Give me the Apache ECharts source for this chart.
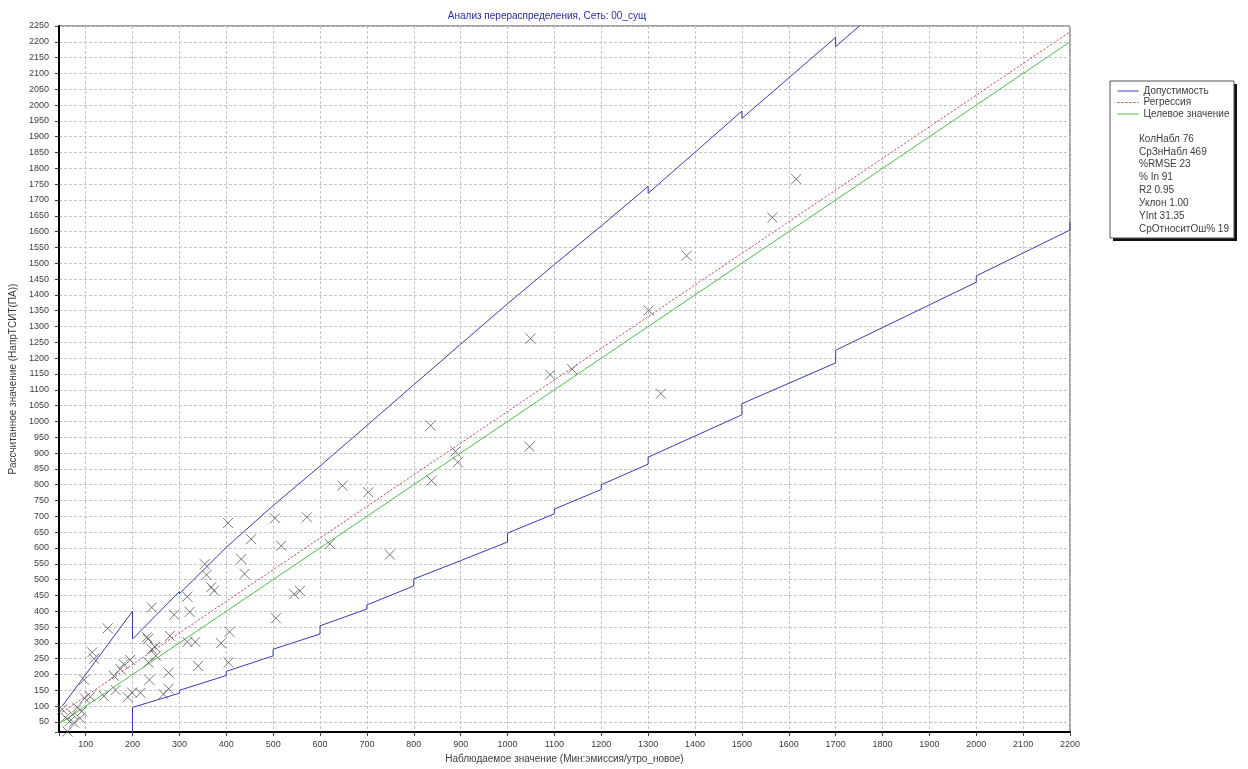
<!DOCTYPE html>
<html>
<head>
<meta charset="utf-8">
<title>Анализ перераспределения</title>
<script src="https://cdn.jsdelivr.net/npm/echarts@6/dist/echarts.min.js"></script>
<style>
  html, body { margin: 0; padding: 0; background: #ffffff; }
  #chart { width: 1248px; height: 769px; }
</style>
</head>
<body>
<div id="chart"></div>
<script>
// Observed counts (x) and modelled volumes (y) for each count location
const observed = [
  50, 57, 61, 66, 72, 75, 82, 88, 92,
  97, 98, 110, 114, 118, 139, 147, 160, 164, 174, 181, 190, 195, 199, 217,
  241, 231, 233, 241, 248, 250, 234, 236, 266, 277, 277, 280, 289,
  317, 322, 317, 334, 340, 354, 358, 368, 374, 389, 407, 405, 432, 439, 453, 404,
  506, 517, 545, 557, 504, 572, 621, 648, 703, 749,
  836, 838, 889, 894, 1047, 1049, 1091, 1138, 1301, 1327, 1382, 1565, 1616
];
const calculated = [
  90, 64, 20, 52, 74, 48, 96, 62, 84,
  183, 125, 130, 270, 250, 132, 346, 196, 151, 217, 233, 128, 246, 143, 142,
  412, 318, 312, 280, 287, 259, 238, 183, 138, 155, 206, 322, 389,
  446, 398, 303, 303, 227, 549, 515, 476, 465, 299, 335, 238, 565, 518, 628, 679,
  378, 607, 454, 464, 694, 697, 613, 797, 776, 579,
  987, 813, 905, 871, 920, 1262, 1148, 1165, 1351, 1088, 1524, 1645, 1766
];

// Tolerance band (upper and lower limits); repeated x values mark the steps
const upperX = [50, 200, 200, 300, 300, 400, 500, 600, 700, 800, 900, 1000, 1100, 1200, 1300, 1300, 1500, 1500, 1700, 1700, 1760];
const upperY = [100, 400, 312, 462, 455, 602, 734, 859, 987, 1116, 1244, 1372, 1496, 1618, 1743, 1721, 1981, 1958, 2214, 2185, 2262];
const lowerX = [200, 200, 300, 300, 400, 400, 500, 500, 600, 600, 700, 700, 800, 800, 900, 1000, 1000, 1100, 1100, 1200, 1200, 1300, 1300, 1500, 1500, 1700, 1700, 2000, 2000, 2200, 2200];
const lowerY = [0, 96, 141, 150, 197, 210, 259, 280, 328, 354, 407, 420, 480, 502, 560, 619, 647, 708, 723, 785, 800, 865, 887, 1021, 1056, 1185, 1225, 1440, 1460, 1605, 1630];

// Regression line and target (1:1) line
const regressionSlope = 1.00;
const regressionIntercept = 31.35;
const lineRangeX = [50, 2200];

const seriesNames = ['Допустимость', 'Регрессия', 'Целевое значение'];
const statLines = [
  'КолНабл 76',
  'СрЗнНабл 469',
  '%RMSE 23',
  '% In 91',
  'R2 0.95',
  'Уклон 1.00',
  'YInt 31.35',
  'СрОтноситОш% 19'
];

const chartTitle = 'Анализ перераспределения, Сеть: 00_сущ';
const xTitle = 'Наблюдаемое значение (Мин:эмиссия/утро_новое)';
const yTitle = 'Рассчитанное значение (НапрТСИТ(ПА))';

const FONT = 'Liberation Sans, Arial, sans-serif';
const BLUE = '#3a3ab8';
const RED = '#d23c3c';
const GREEN = '#4cc04c';
const TEXT = '#3c3c3c';

const zip = (xs, ys) => xs.map((x, i) => [x, ys[i]]);
const points = zip(observed, calculated);
const regressionLine = lineRangeX.map(x => [x, regressionSlope * x + regressionIntercept]);
const targetLine = lineRangeX.map(x => [x, x]);

const lineStyles = {
  'Допустимость': { color: BLUE, width: 1, type: 'solid' },
  'Регрессия': { color: RED, width: 1, type: [2, 2] },
  'Целевое значение': { color: GREEN, width: 1, type: 'solid' }
};

const chart = echarts.init(document.getElementById('chart'), null, { renderer: 'canvas' });

const gridSplit = { show: true, lineStyle: { color: '#c4c4c4', width: 1, type: [3, 2] } };
const axisText = { fontFamily: FONT, fontSize: 9, color: TEXT };
const titleText = { fontFamily: FONT, fontSize: 10, color: TEXT };

// Legend frame with drop shadow, plus summary statistics
const boxLeft = 1110, boxTop = 81, boxW = 124, boxH = 157;
const graphics = [
  { type: 'rect', z: 0, shape: { x: boxLeft + 3, y: boxTop + 3, width: boxW, height: boxH }, style: { fill: '#111' } },
  { type: 'rect', z: 1, shape: { x: boxLeft, y: boxTop, width: boxW, height: boxH }, style: { fill: '#fff', stroke: '#555', lineWidth: 1 } }
];
statLines.forEach((t, i) => {
  graphics.push({
    type: 'text', z: 5, left: boxLeft + 29, top: 134 + i * 12.85,
    style: { text: t, font: '10px ' + FONT, fill: TEXT }
  });
});

chart.setOption({
  animation: false,
  backgroundColor: '#ffffff',
  title: {
    text: chartTitle,
    left: 542, top: 6, textAlign: 'center',
    textStyle: { fontFamily: FONT, fontSize: 10, fontWeight: 'normal', color: '#2a2aa8' }
  },
  legend: {
    data: seriesNames.map(name => ({ name, lineStyle: lineStyles[name] })),
    orient: 'vertical',
    left: boxLeft + 2, top: boxTop,
    itemWidth: 21, itemHeight: 10, itemGap: 1.5,
    itemStyle: { opacity: 0 },
    textStyle: { fontFamily: FONT, fontSize: 10, color: TEXT },
    selectedMode: false, z: 10
  },
  graphic: graphics,
  grid: {
    left: 57, right: 178, top: 26, bottom: 36,
    show: true, borderColor: '#444', borderWidth: 1, backgroundColor: 'transparent'
  },
  xAxis: {
    type: 'value', min: 43, max: 2200,
    splitNumber: 22, minInterval: 100, maxInterval: 100,
    name: xTitle, nameLocation: 'middle', nameGap: 21,
    nameTextStyle: titleText,
    axisLine: { show: true, lineStyle: { color: '#000', width: 2 } },
    axisTick: { show: true, length: 4, lineStyle: { color: '#444' } },
    axisLabel: Object.assign({ margin: 8, formatter: v => (v % 100 === 0 ? String(v) : '') }, axisText),
    splitLine: gridSplit
  },
  yAxis: {
    type: 'value', min: 18, max: 2250,
    splitNumber: 45, minInterval: 50, maxInterval: 50,
    name: yTitle, nameLocation: 'middle', nameGap: 40, nameRotate: 90,
    nameTextStyle: titleText,
    axisLine: { show: true, lineStyle: { color: '#000', width: 2 } },
    axisTick: { show: true, length: 4, lineStyle: { color: '#444' } },
    axisLabel: Object.assign({ margin: 10, formatter: v => (v % 50 === 0 ? String(v) : '') }, axisText),
    splitLine: gridSplit
  },
  series: [
    {
      name: 'Допустимость', type: 'line', data: zip(upperX, upperY),
      symbol: 'none', clip: true, lineStyle: lineStyles['Допустимость'], itemStyle: { color: BLUE }, z: 3
    },
    {
      name: 'Допустимость', type: 'line', data: zip(lowerX, lowerY),
      symbol: 'none', clip: true, lineStyle: lineStyles['Допустимость'], itemStyle: { color: BLUE }, z: 3
    },
    {
      name: 'Регрессия', type: 'line', data: regressionLine,
      symbol: 'none', clip: true, lineStyle: lineStyles['Регрессия'], itemStyle: { color: RED }, z: 3
    },
    {
      name: 'Целевое значение', type: 'line', data: targetLine,
      symbol: 'none', clip: true, lineStyle: lineStyles['Целевое значение'], itemStyle: { color: GREEN }, z: 3
    },
    {
      name: 'Наблюдения', type: 'scatter', data: points,
      symbol: 'path://M0 0L10 10M10 0L0 10', symbolSize: 10,
      itemStyle: { color: 'transparent', borderColor: '#555', borderWidth: 1 },
      z: 4
    }
  ]
});
</script>
</body>
</html>
